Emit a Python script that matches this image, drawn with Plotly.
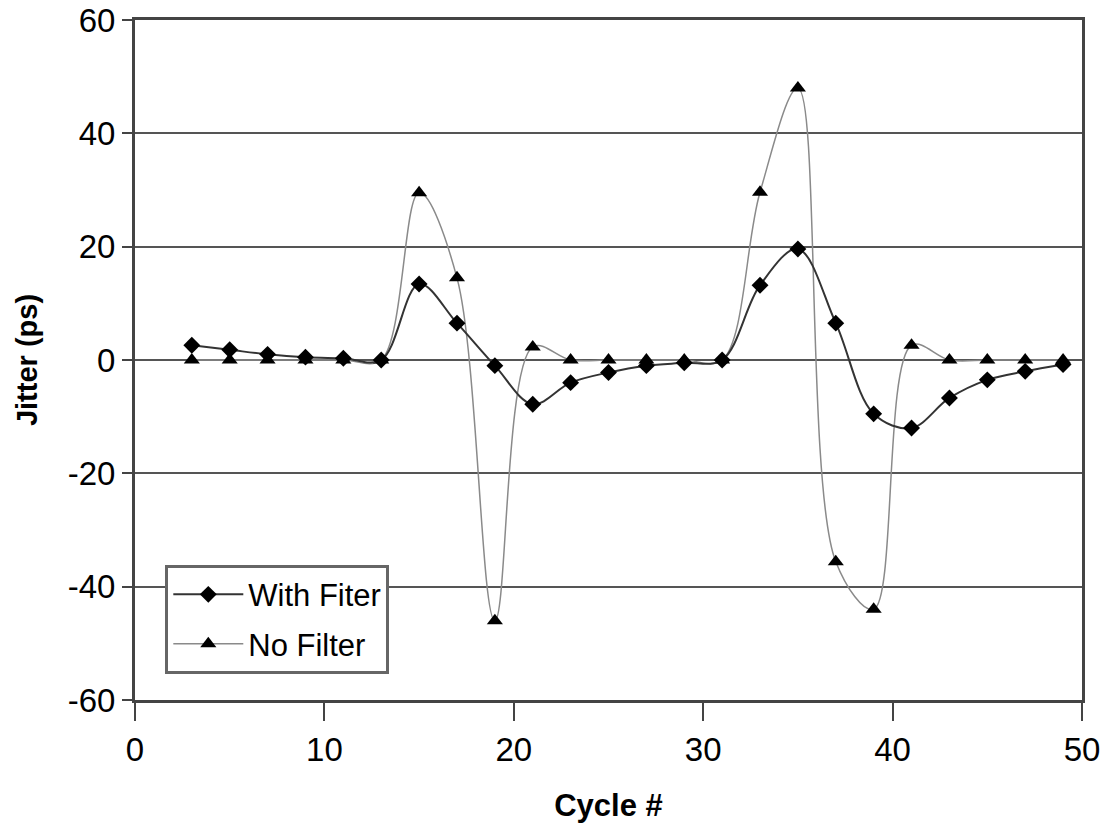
import plotly.graph_objects as go

cycles = [3, 5, 7, 9, 11, 13, 15, 17, 19, 21, 23, 25, 27, 29, 31, 33, 35, 37, 39, 41, 43, 45, 47, 49]
with_filter = [2.6, 1.8, 1.0, 0.5, 0.3, 0.0, 13.4, 6.5, -1.0, -7.8, -4.0, -2.2, -1.0, -0.5, 0.0,
               13.2, 19.6, 6.5, -9.5, -12.0, -6.7, -3.5, -2.0, -0.8]
no_filter = [0.0, 0.0, 0.0, 0.0, 0.0, 0.0, 29.5, 14.5, -46.0, 2.3, 0.0, 0.0, 0.0, 0.0, 0.0,
             29.6, 48.0, -35.6, -44.0, 2.6, 0.0, 0.0, 0.0, 0.0]
x_ticks = [0, 10, 20, 30, 40, 50]
y_ticks = [-60, -40, -20, 0, 20, 40, 60]
y_tick_text = ["-60", "-40", "-20", "0", "20", "40", "60"]

fig = go.Figure()
fig.add_trace(go.Scatter(
    x=cycles, y=no_filter, name="No Filter", mode="lines+markers",
    legendgroup="b", legendrank=2,
    line=dict(color="#8a8a8a", width=1.5, shape="spline", smoothing=1.0),
    marker=dict(symbol="triangle-up", size=14, color="black"),
))
fig.add_trace(go.Scatter(
    x=cycles, y=with_filter, name="With Fiter", mode="lines+markers",
    legendgroup="a", legendrank=1,
    line=dict(color="#333333", width=2, shape="spline", smoothing=1.0),
    marker=dict(symbol="diamond", size=13, color="black"),
))

font = "Liberation Sans, Arial, sans-serif"
fig.update_layout(
    width=1106, height=827,
    margin=dict(l=135, r=24, t=20, b=127),
    paper_bgcolor="white", plot_bgcolor="white",
    showlegend=True,
    legend=dict(
        x=0.032, y=0.199, xanchor="left", yanchor="top",
        bgcolor="white", bordercolor="#666666", borderwidth=3,
        font=dict(family=font, size=31, color="black"),
        traceorder="grouped", tracegroupgap=6,
        itemwidth=70,
    ),
    xaxis=dict(
        range=[0, 50], tickvals=x_ticks, showgrid=False, zeroline=False,
        showline=True, linecolor="#444444", linewidth=3, mirror=True,
        ticks="outside", ticklen=18, tickcolor="#444444", tickwidth=2,
        tickfont=dict(family=font, size=33, color="black"),
        automargin=False, ticklabeloverflow="allow",
        title=dict(text="<b>Cycle #</b>", font=dict(family=font, size=31, color="black"), standoff=28),
    ),
    yaxis=dict(
        range=[-60, 60], tickvals=y_ticks, ticktext=y_tick_text,
        showgrid=True, gridcolor="#555555", gridwidth=2,
        zeroline=False,
        showline=True, linecolor="#444444", linewidth=3, mirror=True,
        ticks="outside", ticklen=10, tickcolor="#444444", tickwidth=2,
        tickfont=dict(family=font, size=33, color="black"),
        automargin=False, ticklabeloverflow="allow",
        title=dict(text="<b>Jitter (ps)</b>", font=dict(family=font, size=29, color="black"), standoff=22),
    ),
)

fig.write_html("out.html", config={"displayModeBar": False},
               post_script="document.body.style.margin='0';")
